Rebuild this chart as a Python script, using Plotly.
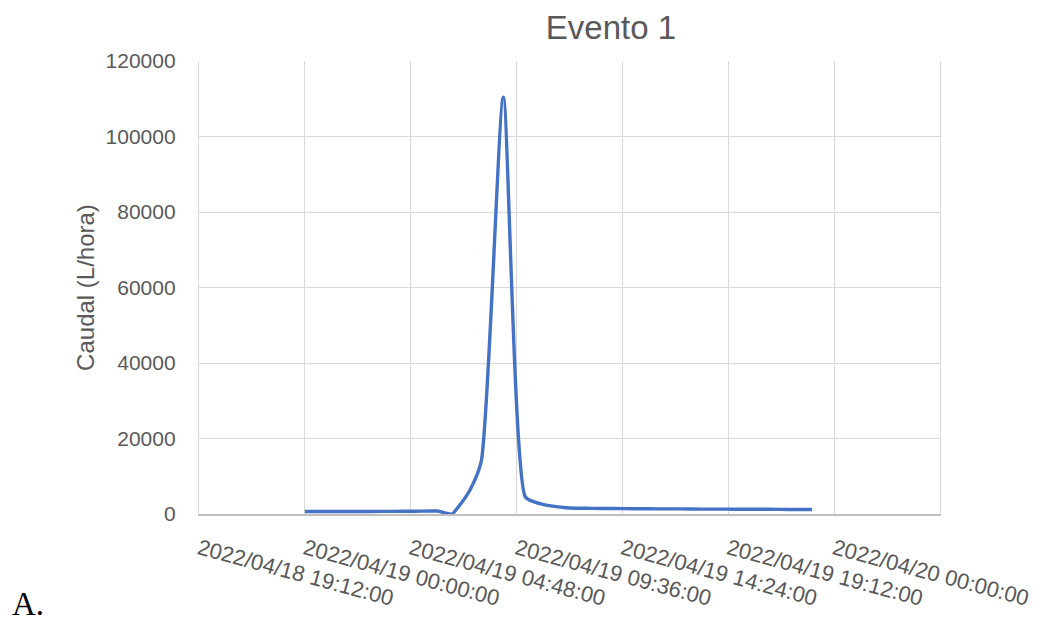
import plotly.graph_objects as go
from datetime import datetime

# ---- data ----
times = [
    "2022-04-19 00:00", "2022-04-19 01:00", "2022-04-19 02:00", "2022-04-19 03:00",
    "2022-04-19 04:00", "2022-04-19 05:00", "2022-04-19 06:00", "2022-04-19 06:40",
    "2022-04-19 07:00", "2022-04-19 07:30", "2022-04-19 08:00", "2022-04-19 09:00",
    "2022-04-19 10:00", "2022-04-19 10:30", "2022-04-19 11:00", "2022-04-19 12:00",
    "2022-04-19 13:00", "2022-04-19 14:00", "2022-04-19 15:00", "2022-04-19 16:00",
    "2022-04-19 17:00", "2022-04-19 18:00", "2022-04-19 19:00", "2022-04-19 20:00",
    "2022-04-19 21:00", "2022-04-19 22:00", "2022-04-19 23:00",
]
caudal = [
    650, 650, 660, 680,
    700, 730, 780, 0,
    2200, 6500, 14000, 110400,
    4500, 3000, 2300, 1600,
    1500, 1450, 1400, 1350,
    1350, 1300, 1300, 1250,
    1250, 1200, 1200,
]

tick_labels = [
    "2022/04/18 19:12:00", "2022/04/19 00:00:00", "2022/04/19 04:48:00",
    "2022/04/19 09:36:00", "2022/04/19 14:24:00", "2022/04/19 19:12:00",
    "2022/04/20 00:00:00",
]
x_range = ["2022-04-18 19:12", "2022-04-20 04:48"]
y_range = [0, 120000]
y_ticks = [0, 20000, 40000, 60000, 80000, 100000, 120000]

title_text = "Evento 1"
y_title = "Caudal (L/hora)"
panel_label = "A."

# ---- build ----
tick_vals = [datetime.strptime(t, "%Y/%m/%d %H:%M:%S") for t in tick_labels]

grey = "#595959"
grid = "#d9d9d9"
font_family = "Liberation Sans, Arial, sans-serif"

# the page body adds an 8px offset, so the figure is 8px smaller
W, H = 1035, 616
L, T, R, B = 191, 53, 103, 110

fig = go.Figure()
fig.add_trace(go.Scatter(
    x=times, y=caudal, mode="lines",
    line=dict(color="#4472C4", width=3.4, shape="spline", smoothing=0.6),
    hoverinfo="x+y", showlegend=False,
))

fig.update_layout(
    width=W, height=H,
    margin=dict(l=L, r=R, t=T, b=B, autoexpand=False),
    paper_bgcolor="white", plot_bgcolor="white",
    font=dict(family=font_family, color=grey),
    title=dict(text=title_text, x=603 / W, xanchor="center",
               y=1 - 19 / H, yanchor="middle", xref="container", yref="container",
               font=dict(size=33, color=grey, family=font_family)),
    showlegend=False,
)

fig.update_xaxes(
    type="date", range=x_range,
    tickmode="array", tickvals=tick_vals, ticktext=tick_labels,
    tickangle=15, tickfont=dict(size=22, color=grey),
    showgrid=True, gridcolor=grid, gridwidth=1.3,
    showline=True, linecolor="#bfbfbf", linewidth=1.5,
    ticks="", ticklabelstandoff=12, zeroline=False,
)
fig.update_yaxes(
    range=y_range, tickmode="array", tickvals=y_ticks,
    ticktext=[str(v) for v in y_ticks],
    tickfont=dict(size=21, color=grey),
    showgrid=True, gridcolor=grid, gridwidth=1.3,
    showline=True, mirror=True, linecolor=grid, linewidth=1.3,
    zeroline=False, ticks="", ticklabelstandoff=18,
    title=dict(text=y_title, font=dict(size=24, color=grey), standoff=4),
)

plot_h = H - T - B
plot_w = W - L - R
fig.add_annotation(
    text=panel_label, xref="paper", yref="paper",
    x=(2 - L) / plot_w, y=(T + plot_h - H) / plot_h, xanchor="left", yanchor="bottom",
    showarrow=False, font=dict(family="Liberation Serif, Times New Roman, serif",
                               size=33, color="black"),
)

fig.write_html("out.html")
